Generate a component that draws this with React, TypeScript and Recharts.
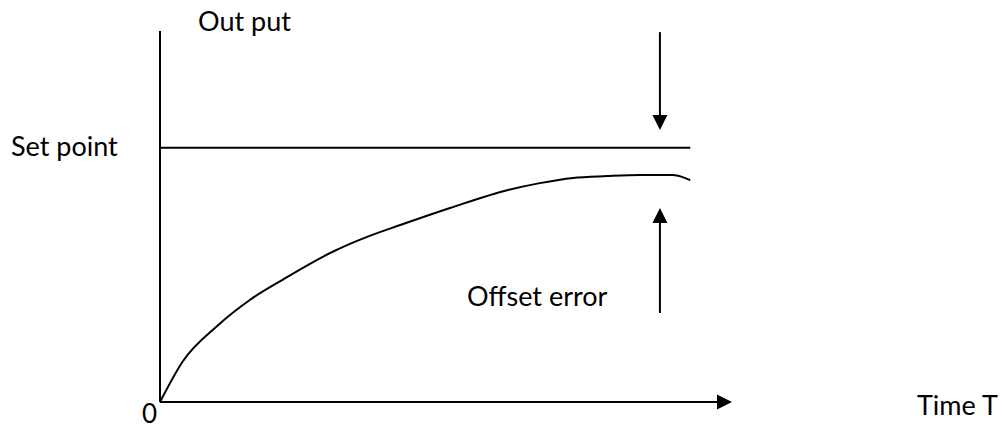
import { LineChart, Line, XAxis, YAxis, ReferenceLine, Customized } from 'recharts';

// time (0..100 along the axis) and output (0..100 up the axis)
const curveTime = [0, 4.0, 10.0, 15.7, 21.5, 30.2, 36.2, 42.0, 50.7, 60.7, 66.4, 72.2, 78.1, 83.9, 89.7, 91.4, 92.7];
const curveOutput = [0, 11.0, 20.5, 27.5, 33.0, 40.5, 44.5, 47.7, 52.3, 57.1, 59.0, 60.4, 60.9, 61.2, 61.2, 60.6, 59.8];

const setPoint = 68.5;
const setPointEnd = 92.7;

const arrowTime = 87.4;
const downArrow = [99.7, 73.3];
const upArrow = [24.0, 52.3];

const data = curveTime.map((t, i) => ({ t, out: curveOutput[i] }));

const FONT = 'Lato, "Open Sans", sans-serif';

function arrowShape(head: boolean) {
    return (props: any) => {
        const { x1, y1, x2, y2 } = props;
        const dx = x2 - x1;
        const dy = y2 - y1;
        const len = Math.sqrt(dx * dx + dy * dy) || 1;
        const ux = dx / len;
        const uy = dy / len;
        const hl = 15;
        const hw = 7.5;
        const bx = x2 - ux * hl;
        const by = y2 - uy * hl;
        const pts = `${x2},${y2} ${bx - uy * hw},${by + ux * hw} ${bx + uy * hw},${by - ux * hw}`;
        return (
            <g>
                <line x1={x1} y1={y1} x2={head ? bx : x2} y2={head ? by : y2} stroke="#000" strokeWidth={2} />
                {head && <polygon points={pts} fill="#000" />}
            </g>
        );
    };
}

const Labels = () => (
    <g fontFamily={FONT} fontSize={27} fill="#000">
        <text x={198} y={31}>Out put</text>
        <text x={11} y={156}>Set point</text>
        <text x={467} y={306}>Offset error</text>
        <text x={917} y={415}>Time T</text>
        <text x={142} y={423} fontSize={26}>0</text>
    </g>
);

export default function App() {
    return (
        <div style={{ position: 'absolute', left: 0, top: 0, width: 1002, height: 429, background: '#fff' }}>
            <LineChart
                width={1002}
                height={429}
                data={data}
                margin={{ top: 31, right: 270, bottom: 27, left: 160 }}
            >
                <XAxis type="number" dataKey="t" domain={[0, 100]} hide />
                <YAxis type="number" domain={[0, 100]} hide />
                <ReferenceLine segment={[{ x: 0, y: 0 }, { x: 0, y: 100 }]} shape={arrowShape(false)} />
                <ReferenceLine segment={[{ x: 0, y: 0 }, { x: 100, y: 0 }]} shape={arrowShape(true)} />
                <ReferenceLine segment={[{ x: 0, y: setPoint }, { x: setPointEnd, y: setPoint }]} shape={arrowShape(false)} />
                <ReferenceLine segment={[{ x: arrowTime, y: downArrow[0] }, { x: arrowTime, y: downArrow[1] }]} shape={arrowShape(true)} />
                <ReferenceLine segment={[{ x: arrowTime, y: upArrow[0] }, { x: arrowTime, y: upArrow[1] }]} shape={arrowShape(true)} />
                <Line
                    type="monotone"
                    dataKey="out"
                    stroke="#000"
                    strokeWidth={2}
                    dot={false}
                    isAnimationActive={false}
                />
                <Customized component={Labels} />
            </LineChart>
        </div>
    );
}
